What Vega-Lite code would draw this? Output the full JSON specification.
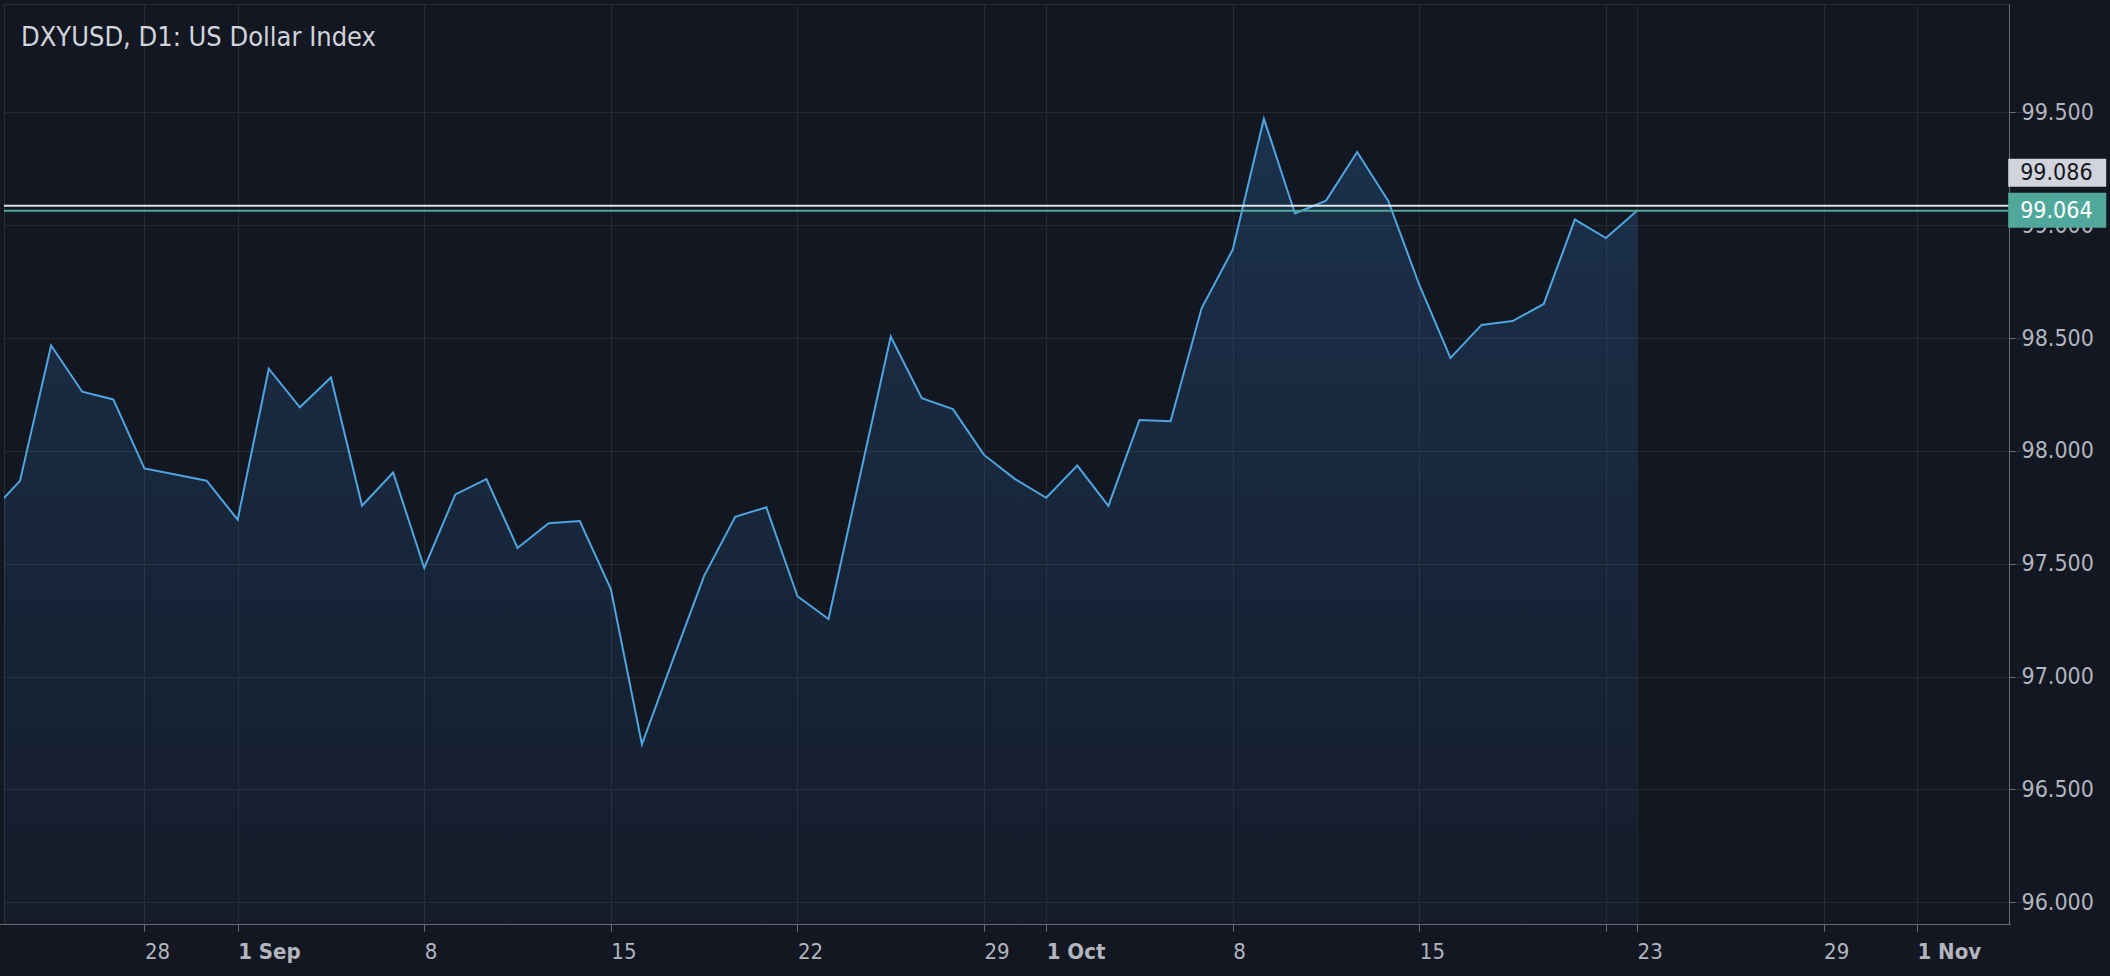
{
  "$schema": "https://vega.github.io/schema/vega-lite/v6.json",
  "autosize": {"type": "none"},
  "padding": {"left": 4, "top": 4, "right": 101, "bottom": 52},
  "width": 2005,
  "height": 920,
  "background": "#131722",
  "config": {
    "view": {"stroke": "#2a2e39", "strokeWidth": 1},
    "axis": {"labelFont": "DejaVu Sans Condensed", "labelColor": "#b2b5be", "gridColor": "#252932", "gridWidth": 1, "domainColor": "#6a6d78", "tickColor": "#6a6d78", "title": null}
  },
  "title": {
    "text": "DXYUSD, D1: US Dollar Index",
    "anchor": "start",
    "frame": "group",
    "orient": "top",
    "baseline": "alphabetic",
    "offset": 0,
    "dx": 17,
    "dy": 69,
    "font": "DejaVu Sans Condensed",
    "fontSize": 27,
    "fontWeight": "normal",
    "color": "#d1d4dc"
  },
  "datasets": {
    "prices": [
      {"date": "2025-08-22", "close": 97.72},
      {"date": "2025-08-24", "close": 97.867},
      {"date": "2025-08-25", "close": 98.467},
      {"date": "2025-08-26", "close": 98.262},
      {"date": "2025-08-27", "close": 98.228},
      {"date": "2025-08-28", "close": 97.922},
      {"date": "2025-08-29", "close": 97.895},
      {"date": "2025-08-31", "close": 97.868},
      {"date": "2025-09-01", "close": 97.695},
      {"date": "2025-09-02", "close": 98.364},
      {"date": "2025-09-03", "close": 98.193},
      {"date": "2025-09-04", "close": 98.325},
      {"date": "2025-09-05", "close": 97.757},
      {"date": "2025-09-07", "close": 97.904},
      {"date": "2025-09-08", "close": 97.481},
      {"date": "2025-09-09", "close": 97.807},
      {"date": "2025-09-10", "close": 97.875},
      {"date": "2025-09-11", "close": 97.57},
      {"date": "2025-09-12", "close": 97.679},
      {"date": "2025-09-14", "close": 97.689},
      {"date": "2025-09-15", "close": 97.388},
      {"date": "2025-09-16", "close": 96.7},
      {"date": "2025-09-17", "close": 97.076},
      {"date": "2025-09-18", "close": 97.446},
      {"date": "2025-09-19", "close": 97.708},
      {"date": "2025-09-21", "close": 97.75},
      {"date": "2025-09-22", "close": 97.356},
      {"date": "2025-09-23", "close": 97.255},
      {"date": "2025-09-24", "close": 97.881},
      {"date": "2025-09-25", "close": 98.507},
      {"date": "2025-09-26", "close": 98.233},
      {"date": "2025-09-28", "close": 98.185},
      {"date": "2025-09-29", "close": 97.982},
      {"date": "2025-09-30", "close": 97.875},
      {"date": "2025-10-01", "close": 97.792},
      {"date": "2025-10-02", "close": 97.935},
      {"date": "2025-10-03", "close": 97.756},
      {"date": "2025-10-05", "close": 98.137},
      {"date": "2025-10-06", "close": 98.131},
      {"date": "2025-10-07", "close": 98.633},
      {"date": "2025-10-08", "close": 98.892},
      {"date": "2025-10-09", "close": 99.472},
      {"date": "2025-10-10", "close": 99.052},
      {"date": "2025-10-12", "close": 99.109},
      {"date": "2025-10-13", "close": 99.324},
      {"date": "2025-10-14", "close": 99.107},
      {"date": "2025-10-15", "close": 98.735},
      {"date": "2025-10-16", "close": 98.412},
      {"date": "2025-10-17", "close": 98.558},
      {"date": "2025-10-19", "close": 98.575},
      {"date": "2025-10-20", "close": 98.651},
      {"date": "2025-10-21", "close": 99.025},
      {"date": "2025-10-22", "close": 98.943},
      {"date": "2025-10-23", "close": 99.064}
    ],
    "ask": [{"price": 99.086}],
    "last": [{"price": 99.064}]
  },
  "layer": [
    {
      "data": {"name": "prices"},
      "mark": {
        "type": "area",
        "clip": true,
        "opacity": 1,
        "color": {
          "gradient": "linear", "x1": 0, "y1": 0, "x2": 0, "y2": 1,
          "stops": [
            {"offset": 0, "color": "rgba(56,145,230,0.21)"},
            {"offset": 1, "color": "rgba(56,145,230,0.04)"}
          ]
        }
      },
      "encoding": {
        "x": {
          "field": "date", "type": "ordinal",
          "scale": {
            "type": "point",
            "padding": 0,
            "range": [-15.1, 2006.2],
            "domain": ["2025-08-22","2025-08-24","2025-08-25","2025-08-26","2025-08-27","2025-08-28","2025-08-29","2025-08-31",
              "2025-09-01","2025-09-02","2025-09-03","2025-09-04","2025-09-05","2025-09-07","2025-09-08","2025-09-09","2025-09-10","2025-09-11","2025-09-12","2025-09-14","2025-09-15","2025-09-16","2025-09-17","2025-09-18","2025-09-19","2025-09-21","2025-09-22","2025-09-23","2025-09-24","2025-09-25","2025-09-26","2025-09-28","2025-09-29","2025-09-30",
              "2025-10-01","2025-10-02","2025-10-03","2025-10-05","2025-10-06","2025-10-07","2025-10-08","2025-10-09","2025-10-10","2025-10-12","2025-10-13","2025-10-14","2025-10-15","2025-10-16","2025-10-17","2025-10-19","2025-10-20","2025-10-21","2025-10-22","2025-10-23",
              "2025-10-24","2025-10-25","2025-10-26","2025-10-27","2025-10-28","2025-10-29","2025-10-30","2025-10-31","2025-11-01","2025-11-02","2025-11-03","2025-11-04"]
          },
          "axis": {
            "orient": "bottom",
            "values": ["2025-08-28","2025-09-01","2025-09-08","2025-09-15","2025-09-22","2025-09-29","2025-10-01","2025-10-08","2025-10-15","2025-10-22","2025-10-23","2025-10-29","2025-11-01"],
            "labelExpr": "datum.value == '2025-10-22' ? '' : (slice(datum.value, 8) == '01' ? utcFormat(toDate(datum.value), '%-d %b') : utcFormat(toDate(datum.value), '%-d'))",
            "labelFontSize": 22,
            "labelFontWeight": {"condition": {"test": "slice(datum.value, 8) == '01'", "value": "bold"}, "value": "normal"},
            "labelAlign": "left",
            "labelBaseline": "top",
            "labelPadding": 10,
            "labelAngle": 0,
            "labelOverlap": false,
            "labelFlush": false,
            "tickSize": 7,
            "grid": true
          }
        },
        "y": {
          "field": "close", "type": "quantitative",
          "scale": {"domain": [95.9036, 99.98], "zero": false, "nice": false},
          "axis": {
            "orient": "right",
            "values": [96, 96.5, 97, 97.5, 98, 98.5, 99, 99.5],
            "format": ".3f",
            "labelFontSize": 23,
            "labelPadding": 6,
            "tickSize": 6,
            "labelOverlap": false,
            "labelFlush": false,
            "grid": true
          }
        },
        "y2": {"datum": 95.9036}
      }
    },
    {
      "data": {"name": "prices"},
      "mark": {"type": "line", "clip": true, "color": "#4ea5e0", "strokeWidth": 2},
      "encoding": {
        "x": {"field": "date", "type": "ordinal"},
        "y": {"field": "close", "type": "quantitative"}
      }
    },
    {
      "data": {"name": "ask"},
      "mark": {"type": "rule", "color": "#dfe2e8", "strokeWidth": 2},
      "encoding": {"y": {"field": "price", "type": "quantitative"}}
    },
    {
      "data": {"name": "last"},
      "mark": {"type": "rule", "color": "#50a89c", "strokeWidth": 2},
      "encoding": {"y": {"field": "price", "type": "quantitative"}}
    },
    {
      "data": {"name": "ask"},
      "mark": {"type": "rect", "clip": false, "color": "#d1d4dc", "xOffset": -2, "x2Offset": 96, "yOffset": -47, "y2Offset": -19},
      "encoding": {
        "x": {"datum": "2025-11-04", "type": "ordinal"},
        "x2": {"datum": "2025-11-04"},
        "y": {"field": "price", "type": "quantitative"},
        "y2": {"field": "price"}
      }
    },
    {
      "data": {"name": "last"},
      "mark": {"type": "rect", "clip": false, "color": "#50a89c", "xOffset": -2, "x2Offset": 96, "yOffset": -18, "y2Offset": 17},
      "encoding": {
        "x": {"datum": "2025-11-04", "type": "ordinal"},
        "x2": {"datum": "2025-11-04"},
        "y": {"field": "price", "type": "quantitative"},
        "y2": {"field": "price"}
      }
    },
    {
      "data": {"name": "ask"},
      "mark": {"type": "text", "clip": false, "color": "#131722", "font": "DejaVu Sans Condensed", "fontSize": 23, "align": "left", "baseline": "middle", "dx": 10, "dy": -33},
      "encoding": {
        "x": {"datum": "2025-11-04", "type": "ordinal"},
        "y": {"field": "price", "type": "quantitative"},
        "text": {"field": "price", "type": "quantitative", "format": ".3f"}
      }
    },
    {
      "data": {"name": "last"},
      "mark": {"type": "text", "clip": false, "color": "#ffffff", "font": "DejaVu Sans Condensed", "fontSize": 23, "align": "left", "baseline": "middle", "dx": 10, "dy": 0},
      "encoding": {
        "x": {"datum": "2025-11-04", "type": "ordinal"},
        "y": {"field": "price", "type": "quantitative"},
        "text": {"field": "price", "type": "quantitative", "format": ".3f"}
      }
    }
  ]
}
